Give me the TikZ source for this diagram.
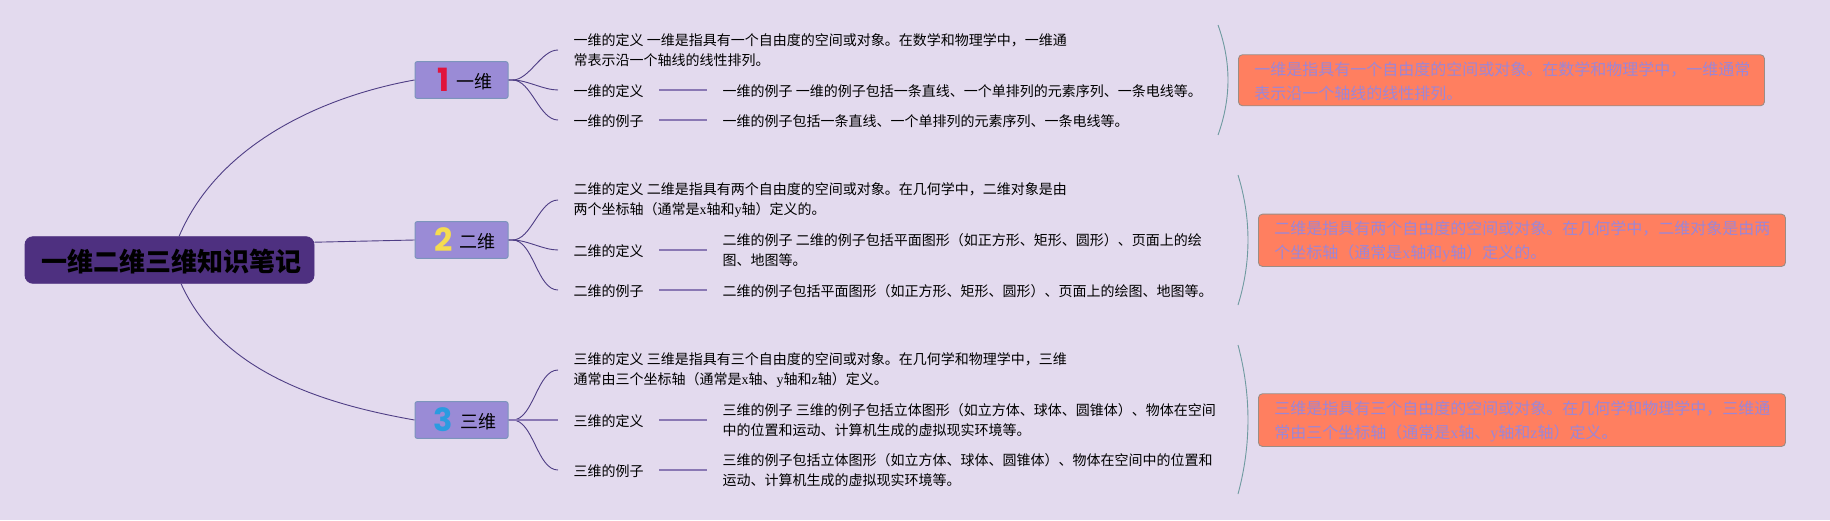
\documentclass[tikz,border=0pt]{standalone}
\usepackage{fontspec}
\setmainfont{Noto Sans CJK SC}
\newfontfamily\latf{Liberation Serif}
\newfontfamily\digf{Poppins}
\newcommand{\lt}[1]{{\latf #1}}
\newcommand{\mk}[3]{\hspace{7pt}\textcolor{#1}{\fontsize{32}{32}\selectfont\digf\bfseries #2}\hspace{7pt}\raisebox{3.5pt}{#3}}
\definecolor{bgc}{HTML}{E3DAEE}
\definecolor{rootc}{HTML}{4E3080}
\definecolor{branchc}{HTML}{9A8BD6}
\definecolor{branchb}{HTML}{7C94BC}
\definecolor{linkc}{HTML}{4F3E85}
\definecolor{linkl}{HTML}{8A78B4}
\definecolor{arcc}{HTML}{6F9AA0}
\definecolor{boxc}{HTML}{FF7F60}
\definecolor{boxb}{HTML}{9C8C84}
\definecolor{boxt}{HTML}{9C86D6}
\definecolor{oneR}{HTML}{E0143C}
\definecolor{twoY}{HTML}{F5DC50}
\definecolor{threeB}{HTML}{2B9BE0}
\tikzset{
  rootnode/.style={draw=rootc,line width=0.8pt,fill=rootc,rounded corners=8pt,minimum width=289pt,minimum height=46.6pt,inner sep=0pt,text=black,font=\fontsize{26}{30}\selectfont\bfseries,execute at begin node={\hspace{4pt}\rule{0pt}{25pt}}},
  branchnode/.style={draw=branchb,line width=1pt,fill=branchc,rounded corners=2pt,minimum width=93pt,minimum height=36.6pt,inner sep=0pt,text=black,font=\fontsize{18}{20}\selectfont},
  itemnode/.style={anchor=west,inner xsep=15.5pt,inner ysep=0pt,align=left,text=black,font=\fontsize{14}{20}\selectfont,execute at begin node={\rule{0pt}{15pt}}},
  notebox/.style={draw=boxb,line width=0.9pt,fill=boxc,rounded corners=4pt,anchor=north west,align=left,inner sep=0pt,text=boxt,font=\fontsize{16}{24}\selectfont,execute at begin node={\rule{0pt}{16.5pt}}},
  link/.style={draw=linkc,line width=0.9pt},
  plainlink/.style={draw=linkl,line width=1.2pt},
  arc/.style={draw=arcc,line width=0.9pt}
}
\begin{document}
\begin{tikzpicture}[x=1pt,y=-1pt]
\useasboundingbox[fill=bgc] (0,0) rectangle (1830,520);
\node[rootnode] (root) at (169.5,260) {一维二维三维知识笔记};
\node[branchnode] (b1) at (461.5,80) {\mk{oneR}{1}{一维}};
\node[branchnode] (b2) at (461.5,240) {\mk{twoY}{2}{二维}};
\node[branchnode] (b3) at (461.5,420) {\mk{threeB}{3}{三维}};
\draw[link] (root.68) .. controls (220,140) and (330,95) .. (b1.west);
\draw[link] (root.7) -- (b2.west);
\draw[link] (root.-64) .. controls (222,375) and (330,405) .. (b3.west);
% block 1
\node[itemnode] (a1) at (558,50) {一维的定义 一维是指具有一个自由度的空间或对象。在数学和物理学中，一维通\\常表示沿一个轴线的线性排列。};
\node[itemnode] (a2) at (558,90) {一维的定义};
\node[itemnode] (a3) at (558,120) {一维的例子};
\node[itemnode] (a2v) at (707,90) {一维的例子 一维的例子包括一条直线、一个单排列的元素序列、一条电线等。};
\node[itemnode] (a3v) at (707,120) {一维的例子包括一条直线、一个单排列的元素序列、一条电线等。};
% block 2
\node[itemnode] (c1) at (558,200) {二维的定义 二维是指具有两个自由度的空间或对象。在几何学中，二维对象是由\\两个坐标轴（通常是\lt{x}轴和\lt{y}轴）定义的。};
\node[itemnode] (c2) at (558,250) {二维的定义};
\node[itemnode] (c3) at (558,290) {二维的例子};
\node[itemnode] (c2v) at (707,250) {二维的例子 二维的例子包括平面图形（如正方形、矩形、圆形）、页面上的绘\\图、地图等。};
\node[itemnode] (c3v) at (707,290) {二维的例子包括平面图形（如正方形、矩形、圆形）、页面上的绘图、地图等。};
% block 3
\node[itemnode] (e1) at (558,370) {三维的定义 三维是指具有三个自由度的空间或对象。在几何学和物理学中，三维\\通常由三个坐标轴（通常是\lt{x}轴、\lt{y}轴和\lt{z}轴）定义。};
\node[itemnode] (e2) at (558,420) {三维的定义};
\node[itemnode] (e3) at (558,470) {三维的例子};
\node[itemnode] (e2v) at (707,420) {三维的例子 三维的例子包括立体图形（如立方体、球体、圆锥体）、物体在空间\\中的位置和运动、计算机生成的虚拟现实环境等。};
\node[itemnode] (e3v) at (707,470) {三维的例子包括立体图形（如立方体、球体、圆锥体）、物体在空间中的位置和\\运动、计算机生成的虚拟现实环境等。};
% branch to items
\foreach \s/\t in {b1/a1,b1/a2,b1/a3,b2/c1,b2/c2,b2/c3,b3/e1,b3/e3}{
  \draw[link] (\s.east) -- ++(4,0) to[out=0,in=180,looseness=0.8] (\t.west);
}
\draw[plainlink] (b3.east) -- (e2.west);
% labels to values
\foreach \s/\t in {a2/a2v,a3/a3v,c2/c2v,c3/c3v,e2/e2v,e3/e3v}{
  \draw[plainlink] (\s.east) -- (\t.west);
}
% notes
\node[notebox,minimum width=526pt,minimum height=51pt,text width=494pt,inner xsep=16pt] (n1) at (1238,54.3) {一维是指具有一个自由度的空间或对象。在数学和物理学中，一维通常\\表示沿一个轴线的线性排列。};
\node[notebox,minimum width=527pt,minimum height=52.3pt,text width=495pt,inner xsep=16pt] (n2) at (1258,213.7) {二维是指具有两个自由度的空间或对象。在几何学中，二维对象是由两\\个坐标轴（通常是\lt{x}轴和\lt{y}轴）定义的。};
\node[notebox,minimum width=527pt,minimum height=52.7pt,text width=495pt,inner xsep=16pt] (n3) at (1258,393.3) {三维是指具有三个自由度的空间或对象。在几何学和物理学中，三维通\\常由三个坐标轴（通常是\lt{x}轴、\lt{y}轴和\lt{z}轴）定义。};
% arcs
\coordinate (p1) at (1218,25); \coordinate (q1) at (1218,135);
\coordinate (p2) at (1238,175); \coordinate (q2) at (1238,305);
\coordinate (p3) at (1238,345); \coordinate (q3) at (1238,494);
\draw[arc] (p1) .. controls (1231.3,62) and (1231.3,98) .. (q1);
\draw[arc] (p2) .. controls (1251.3,218) and (1251.3,262) .. (q2);
\draw[arc] (p3) .. controls (1251.3,395) and (1251.3,445) .. (q3);
\end{tikzpicture}
\end{document}
